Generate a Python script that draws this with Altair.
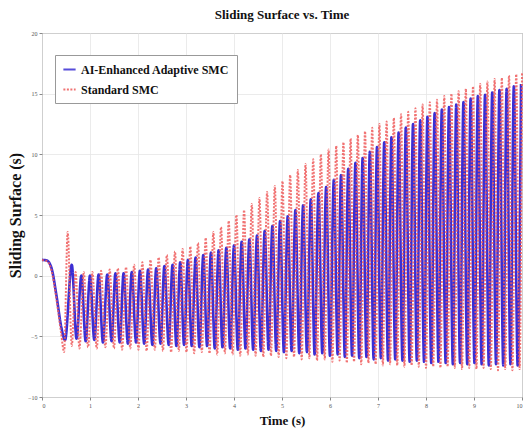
import altair as alt
import pandas as pd

series_names = ["AI-Enhanced Adaptive SMC", "Standard SMC"]

# Blue (AI-Enhanced Adaptive SMC): times and values of the turning points
blue_t = [0.00, 0.10, 0.20, 0.30, 0.40, 0.48, 0.62, 0.72,
          0.82, 0.91, 1.00, 1.09, 1.18, 1.27, 1.36, 1.45, 1.53, 1.62, 1.70, 1.79, 1.87, 1.96,
          2.04, 2.13, 2.21, 2.30, 2.38, 2.47, 2.55, 2.64, 2.72, 2.80, 2.88, 2.96,
          3.04, 3.12, 3.20, 3.28, 3.36, 3.44, 3.52, 3.60, 3.68, 3.76, 3.84, 3.92,
          4.00, 4.08, 4.16, 4.24, 4.32, 4.40, 4.48, 4.56, 4.64, 4.72, 4.80, 4.88, 4.96,
          5.04, 5.12, 5.20, 5.28, 5.36, 5.44, 5.52, 5.60, 5.68, 5.76, 5.84, 5.92,
          6.00, 6.08, 6.16, 6.23, 6.31, 6.38, 6.46, 6.53, 6.61, 6.68, 6.76, 6.83, 6.91, 6.98,
          7.06, 7.13, 7.21, 7.28, 7.36, 7.43, 7.51, 7.58, 7.66, 7.73, 7.81, 7.88, 7.96,
          8.03, 8.11, 8.18, 8.26, 8.33, 8.41, 8.48, 8.56, 8.63, 8.71, 8.78, 8.86, 8.93,
          9.01, 9.08, 9.16, 9.23, 9.31, 9.38, 9.46, 9.53, 9.61, 9.68, 9.76, 9.83, 9.91, 9.98]
blue_v = [1.3, 1.25, 0.6, -1.6, -4.2, -5.3, 0.9, -5.2,
          0.0, -5.4, 0.0, -5.3, 0.1, -5.5, 0.1, -5.4, 0.2, -5.5, 0.2, -5.6, 0.3, -5.5,
          0.4, -5.6, 0.5, -5.7, 0.6, -5.6, 0.8, -5.7, 0.9, -5.8, 1.1, -5.7,
          1.3, -5.8, 1.5, -5.9, 1.7, -5.8, 1.9, -6.0, 2.1, -5.9, 2.3, -6.0,
          2.5, -6.1, 2.8, -6.0, 3.0, -6.1, 3.3, -6.2, 3.7, -6.1, 4.1, -6.2, 4.5,
          -6.3, 4.9, -6.2, 5.4, -6.4, 5.8, -6.3, 6.3, -6.5, 6.8, -6.4, 7.3,
          -6.6, 7.9, -6.5, 8.3, -6.7, 8.8, -6.6, 9.3, -6.8, 9.7, -6.7, 10.2, -6.9, 10.6,
          -6.8, 11.0, -7.0, 11.4, -6.9, 11.8, -7.0, 12.2, -7.1, 12.5, -7.0, 12.8, -7.1,
          13.1, -7.2, 13.4, -7.1, 13.7, -7.2, 13.9, -7.3, 14.1, -7.2, 14.3, -7.3, 14.6,
          -7.2, 14.8, -7.3, 14.9, -7.4, 15.1, -7.3, 15.3, -7.4, 15.4, -7.3, 15.6, -7.4, 15.8]

# Red dotted (Standard SMC)
red_t = [0.00, 0.10, 0.20, 0.30, 0.40, 0.46, 0.535, 0.62,
         0.70, 0.78, 0.87, 0.96, 1.05, 1.14, 1.23, 1.32, 1.41, 1.50, 1.58, 1.67, 1.75, 1.84, 1.92,
         2.01, 2.09, 2.18, 2.26, 2.35, 2.43, 2.52, 2.60, 2.69, 2.77, 2.85, 2.93,
         3.01, 3.09, 3.17, 3.25, 3.33, 3.41, 3.49, 3.57, 3.65, 3.73, 3.81, 3.89, 3.97,
         4.05, 4.13, 4.21, 4.29, 4.37, 4.45, 4.53, 4.61, 4.69, 4.77, 4.85, 4.93,
         5.01, 5.09, 5.17, 5.25, 5.33, 5.41, 5.49, 5.57, 5.65, 5.73, 5.81, 5.89, 5.97,
         6.05, 6.13, 6.20, 6.28, 6.35, 6.43, 6.50, 6.58, 6.65, 6.73, 6.80, 6.88, 6.95,
         7.03, 7.10, 7.18, 7.25, 7.33, 7.40, 7.48, 7.55, 7.63, 7.70, 7.78, 7.85, 7.93,
         8.00, 8.08, 8.15, 8.23, 8.30, 8.38, 8.45, 8.53, 8.60, 8.68, 8.75, 8.83, 8.90, 8.98,
         9.05, 9.13, 9.20, 9.28, 9.35, 9.43, 9.50, 9.58, 9.65, 9.73, 9.80, 9.88, 9.95, 10.00]
red_v = [1.3, 1.2, 0.4, -1.9, -4.8, -6.3, 3.6, -5.8,
         0.3, -6.0, 0.3, -5.9, 0.3, -6.0, 0.4, -5.9, 0.5, -6.0, 0.6, -6.1, 0.7, -6.0, 0.9,
         -6.1, 1.1, -6.2, 1.3, -6.1, 1.5, -6.2, 1.7, -6.3, 2.0, -6.2, 2.2,
         -6.3, 2.4, -6.4, 2.7, -6.3, 3.1, -6.4, 3.6, -6.5, 4.0, -6.4, 4.5, -6.5,
         5.0, -6.6, 5.4, -6.5, 5.9, -6.6, 6.4, -6.7, 6.9, -6.6, 7.4, -6.7,
         7.8, -6.8, 8.3, -6.7, 8.7, -6.9, 9.2, -6.8, 9.6, -7.0, 10.0, -6.9, 10.4,
         -7.1, 10.7, -7.0, 11.0, -7.2, 11.3, -7.1, 11.6, -7.3, 11.9, -7.2, 12.2, -7.3,
         12.5, -7.4, 12.7, -7.3, 13.0, -7.4, 13.3, -7.5, 13.5, -7.4, 13.8, -7.5, 14.1,
         -7.6, 14.3, -7.5, 14.5, -7.6, 14.8, -7.5, 15.0, -7.6, 15.2, -7.7, 15.4, -7.6, 15.6,
         -7.7, 15.8, -7.6, 16.0, -7.7, 16.2, -7.8, 16.3, -7.7, 16.5, -7.8, 16.6, -7.7, 16.8]

x_ticks = [0, 1, 2, 3, 4, 5, 6, 7, 8, 9, 10]
y_ticks = [-10, -5, 0, 5, 10, 15, 20]

rows = []
for i, (t, v) in enumerate(zip(blue_t, blue_v)):
    rows.append({"t": t, "s": v, "series": series_names[0], "k": i})
for i, (t, v) in enumerate(zip(red_t, red_v)):
    rows.append({"t": t, "s": v, "series": series_names[1], "k": i})
df = pd.DataFrame(rows)

serif = "Liberation Serif"
colors = ["#3a2ed4", "#ee5a5a"]

color_scale = alt.Scale(domain=series_names, range=colors)
dash_scale = alt.Scale(domain=series_names, range=[[1, 0], [2, 1.5]])

base = alt.Chart(df).encode(
    x=alt.X("t:Q", scale=alt.Scale(domain=[0, 10], nice=False),
            axis=alt.Axis(values=x_ticks, title="Time (s)", format="d")),
    y=alt.Y("s:Q", scale=alt.Scale(domain=[-10, 20], nice=False),
            axis=alt.Axis(values=y_ticks, title="Sliding Surface (s)", format="d")),
    order="k:Q",
)

blue = base.transform_filter(alt.datum.series == series_names[0]).mark_line(
    strokeWidth=2.6, interpolate="monotone"
).encode(
    color=alt.Color("series:N", scale=color_scale,
                    legend=alt.Legend(title=None, orient="none", legendX=13, legendY=22,
                                      symbolType="stroke", symbolSize=150, symbolStrokeWidth=2,
                                      labelFont=serif, labelFontSize=12, labelFontWeight="bold",
                                      labelColor="#111", labelLimit=300, fillColor="white",
                                      strokeColor="#999", padding=7, rowPadding=6)),
    strokeDash=alt.StrokeDash("series:N", scale=dash_scale, legend=None),
)
red = base.transform_filter(alt.datum.series == series_names[1]).mark_line(
    strokeWidth=2.0, interpolate="monotone", opacity=0.85
).encode(
    color=alt.Color("series:N", scale=color_scale),
    strokeDash=alt.StrokeDash("series:N", scale=dash_scale, legend=None),
)

chart = alt.layer(blue, red).properties(
    width=480, height=364,
    title=alt.TitleParams("Sliding Surface vs. Time", font=serif, fontSize=13, fontWeight="bold",
                          color="#111", anchor="middle", offset=8),
    autosize=alt.AutoSizeParams(type="none"),
    padding={"left": 42, "top": 33, "right": 3, "bottom": 33},
).configure_view(stroke="#777", strokeWidth=1).configure_axis(
    grid=True, gridColor="#e6e6e6", gridWidth=0.8, domain=False,
    tickColor="#888", tickSize=3, labelFontSize=6, labelColor="#555", labelFont=serif,
    titleFont=serif, titleFontWeight="bold", titleColor="#111",
).configure_axisX(titleFontSize=13, titlePadding=6, labelPadding=2).configure_axisY(
    titleFontSize=16, titlePadding=4, labelPadding=2
)

chart.save("out.html", embed_options={"renderer": "svg", "actions": False})
